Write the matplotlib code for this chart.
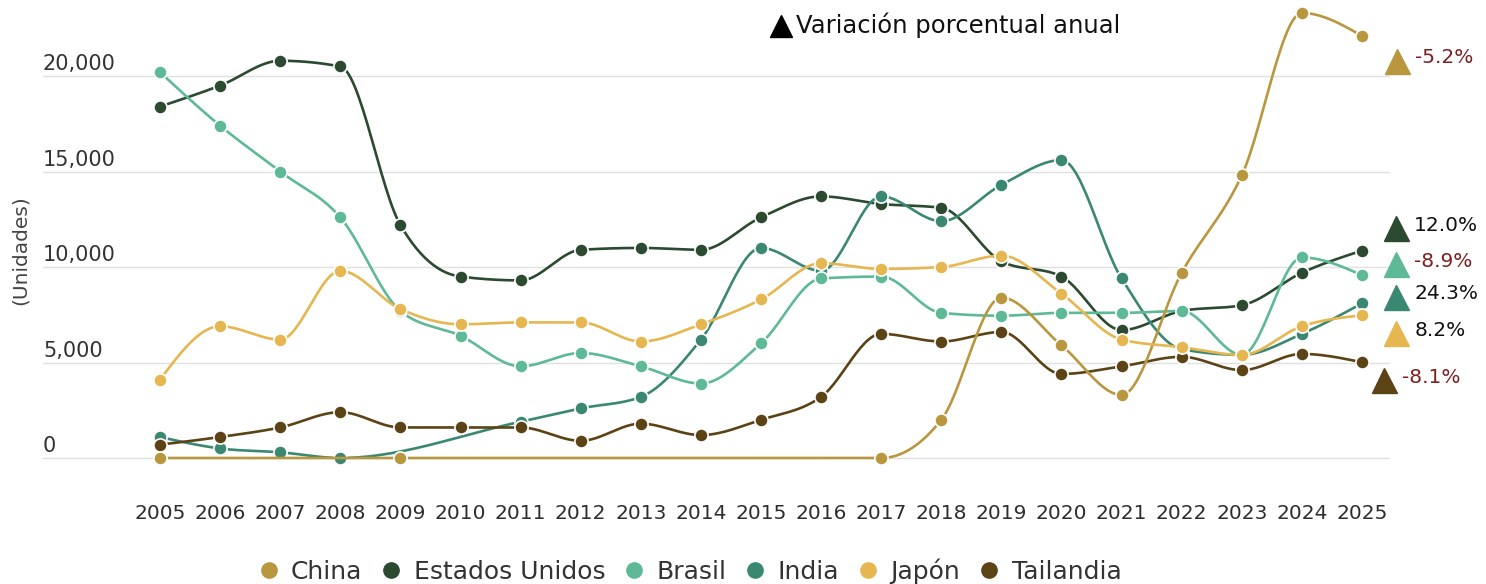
import numpy as np
import matplotlib
matplotlib.use("Agg")
import matplotlib.pyplot as plt
import matplotlib.transforms as mtransforms
from matplotlib.lines import Line2D

plt.rcParams['font.family'] = ['DejaVu Sans']

years = list(range(2005, 2026))
nan = np.nan

china = [0, nan, nan, nan, 0, nan, nan, nan, nan, nan, nan, nan, 0,
         2000, 8400, 5900, 3300, 9700, 14800, 23300, 22100]
usa = [18400, 19500, 20800, 20500, 12200, 9500, 9300, 10900, 11000, 10900, 12600,
       13700, 13300, 13100, 10300, 9500, 6700, 7700, 8000, 9700, 10860]
brasil = [20200, 17400, 15000, 12600, 7700, 6400, 4800, 5500, 4800, 3900, 6000,
          9400, 9500, 7600, 7450, 7600, 7600, 7700, 5400, 10500, 9570]
india = [1100, 500, 300, 0, nan, nan, 1900, 2600, 3200, 6200, 11000,
         9800, 13700, 12400, 14300, 15600, 9400, 5700, 5400, 6500, 8100]
japon = [4100, 6900, 6200, 9800, 7800, 7000, 7100, 7100, 6100, 7000, 8300,
         10200, 9900, 10000, 10600, 8600, 6200, 5800, 5400, 6900, 7470]
tailandia = [700, 1100, 1600, 2400, 1600, 1600, 1600, 900, 1800, 1200, 2000,
             3200, 6500, 6100, 6600, 4400, 4800, 5300, 4600, 5450, 5010]

names = ['China', 'Estados Unidos', 'Brasil', 'India', 'Japón', 'Tailandia']
series = [china, usa, brasil, india, japon, tailandia]
palette = ['#B8973F', '#2B4A30', '#5DB996', '#3A8871', '#E6B650', '#5B4315']
draw_order = [1, 3, 2, 5, 0, 4]

# annual change labels shown at the right edge
changes = ['-5.2%', '12.0%', '-8.9%', '24.3%', '8.2%', '-8.1%']
change_series = [0, 1, 2, 3, 4, 5]
change_y = [20800, 12050, 10150, 8450, 6550, 4080]
red = '#7E1F22'


def monotone_x(x, y, n=30):
    # d3 curveMonotoneX
    x = np.asarray(x, float)
    y = np.asarray(y, float)
    m = len(x)
    if m < 3:
        return x, y
    h = np.diff(x)
    s = np.diff(y) / h
    t = np.zeros(m)
    for i in range(1, m - 1):
        h0, h1 = h[i - 1], h[i]
        s0, s1 = s[i - 1], s[i]
        p = (s0 * h1 + s1 * h0) / (h0 + h1)
        t[i] = (np.sign(s0) + np.sign(s1)) * min(abs(s0), abs(s1), 0.5 * abs(p))
    t[0] = (3 * s[0] - t[1]) / 2
    t[-1] = (3 * s[-1] - t[-2]) / 2
    xs, ys = [], []
    for i in range(m - 1):
        u = np.linspace(0, 1, n)
        dx = h[i]
        p0, p3 = y[i], y[i + 1]
        p1 = p0 + dx * t[i] / 3
        p2 = p3 - dx * t[i + 1] / 3
        xs.append(x[i] + dx * u)
        ys.append((1 - u) ** 3 * p0 + 3 * (1 - u) ** 2 * u * p1 + 3 * (1 - u) * u ** 2 * p2 + u ** 3 * p3)
    return np.concatenate(xs), np.concatenate(ys)


fig = plt.figure(figsize=(14.86, 5.84), dpi=100)
ax = fig.add_axes([43 / 1486, 94 / 584, 1347 / 1486, 485 / 584])
ax.set_xlim(2003.053, 2025.466)
ax.set_ylim(-1675, 23720)

for v in range(0, 20001, 5000):
    ax.axhline(v, color='#E0E0E0', lw=1, zorder=0)

for k, i in enumerate(draw_order):
    yv = np.array(series[i], float)
    xv = np.array(years, float)
    ok = ~np.isnan(yv)
    cx, cy = monotone_x(xv[ok], yv[ok])
    ax.plot(cx, cy, color=palette[i], lw=1.9, zorder=2 + k * 2, clip_on=False,
            solid_capstyle='round')
    ax.plot(xv[ok], yv[ok], 'o', color=palette[i], ms=9.5, mec='white', mew=1.2,
            zorder=3 + k * 2, clip_on=False)

for s in ax.spines.values():
    s.set_visible(False)

ax.set_yticks([])
trans = mtransforms.blended_transform_factory(ax.transAxes, ax.transData)
for v in range(0, 20001, 5000):
    ax.annotate(f'{v:,}', (0, v), xycoords=trans, xytext=(0, 4), textcoords='offset points',
                ha='left', va='baseline', fontsize=15, color='#333333')

ax.set_xticks(years)
ax.set_xticklabels([str(y) for y in years], fontsize=14.5, color='#2E2E2E')
ax.tick_params(axis='x', length=0, pad=10)

fig.text(20 / 1486, 1 - 250 / 584, '(Unidades)', rotation=90, ha='center', va='center',
         fontsize=14.5, color='#444444')

# right-side annotations
tri_x = [2025.58, 2025.57, 2025.57, 2025.57, 2025.57, 2025.37]
for k, lab in enumerate(changes):
    i = change_series[k]
    ax.plot([tri_x[k]], [change_y[k]], '^', color=palette[i], ms=18, clip_on=False, zorder=20)
    ax.text(tri_x[k] + 0.3, change_y[k] + 150, lab, fontsize=14.5,
            color=red if lab.startswith('-') else '#111111', va='center', ha='left',
            clip_on=False)

# header
fig.add_artist(Line2D([781 / 1486], [1 - 26 / 584], marker='^', ms=16.5, color='black',
                      transform=fig.transFigure))
fig.text(796 / 1486, 1 - 25 / 584, 'Variación porcentual anual', fontsize=17.5,
         color='#111111', va='center', ha='left')

handles = [Line2D([], [], ls='none', marker='o', ms=11, color=c) for c in palette]
fig.legend(handles, names, loc='center', bbox_to_anchor=(690 / 1486, 1 - 571 / 584), ncol=6,
           frameon=False, fontsize=18, handlelength=0.8, handletextpad=0.5,
           columnspacing=0.75, labelcolor='#333333', borderpad=0)

fig.savefig('out.png', dpi=100)
